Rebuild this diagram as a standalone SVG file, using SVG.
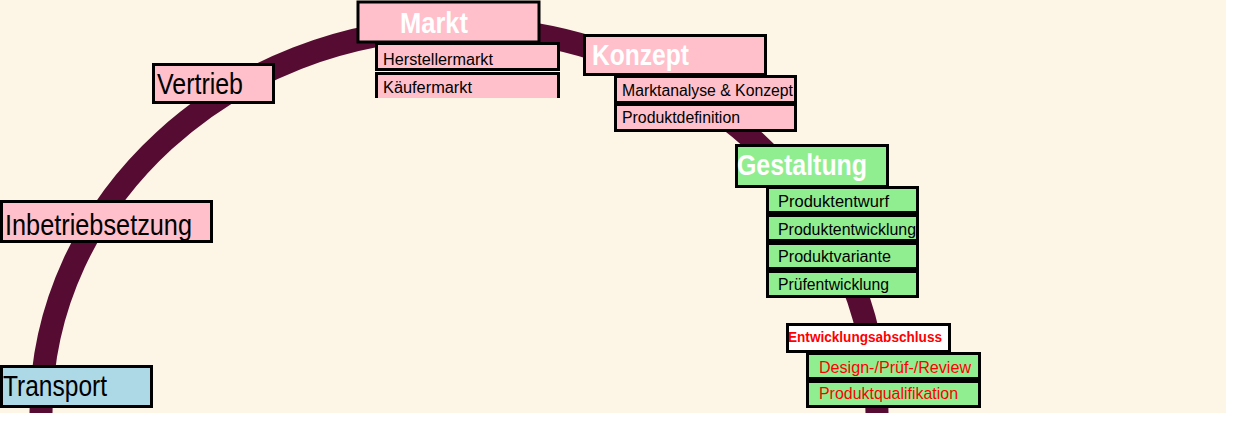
<svg xmlns="http://www.w3.org/2000/svg" width="1240" height="426" viewBox="0 0 1240 426">
<style>
.bx{stroke:#000;stroke-width:3}
.pk{fill:#FFC0CB}
.gr{fill:#90EE90}
.bl{fill:#ADD8E6}
.wh{fill:#FFFFFF}
text{font-family:"Liberation Sans",Arial,sans-serif}
.big{font-size:29px;fill:#000}
.head{font-size:29px;font-weight:bold;fill:#FFFFFF}
.sub{font-size:16px;fill:#000}
.red{font-size:16px;fill:#FF0000}
.redb{font-size:14px;font-weight:bold;fill:#FF0000}
</style>
<rect x="0" y="0" width="1240" height="426" fill="#FFFFFF"/>
<rect x="0" y="0" width="1226" height="413" fill="#FDF5E6"/>
<g id="connectors">
<path d="M41,413 C41,200 230,28 459,28 C688,28 877,200 877,413" fill="none" stroke="#560C32" stroke-width="23"/>
</g>
<g id="markt">
<rect class="bx pk" x="358" y="2" width="181" height="40" stroke-width="4"/>
<text class="head" x="400" y="33" textLength="68" lengthAdjust="spacingAndGlyphs">Markt</text>
</g>
<g id="herstellermarkt">
<rect class="bx pk" x="376.5" y="43.5" width="182" height="26"/>
<text class="sub" x="383" y="65" textLength="110" lengthAdjust="spacingAndGlyphs">Herstellermarkt</text>
</g>
<g id="kaeufermarkt">
<rect class="pk" x="375" y="72" width="185" height="26"/>
<path d="M376.5,98 V73.5 H558.5 V98" fill="none" stroke="#000" stroke-width="3"/>
<text class="sub" x="383" y="93" textLength="89" lengthAdjust="spacingAndGlyphs">Käufermarkt</text>
</g>
<g id="konzept">
<rect class="bx pk" x="584.5" y="35.5" width="181" height="39"/>
<text class="head" x="592" y="65" textLength="97" lengthAdjust="spacingAndGlyphs">Konzept</text>
</g>
<g id="marktanalyse">
<rect class="bx pk" x="615.5" y="76.5" width="180" height="26"/>
<text class="sub" x="622" y="96" textLength="171" lengthAdjust="spacingAndGlyphs">Marktanalyse &amp; Konzept</text>
</g>
<g id="produktdefinition">
<rect class="bx pk" x="615.5" y="104.5" width="180" height="26"/>
<text class="sub" x="622" y="123" textLength="118" lengthAdjust="spacingAndGlyphs">Produktdefinition</text>
</g>
<g id="gestaltung">
<rect class="bx gr" x="736.5" y="145.5" width="151" height="41"/>
<text class="head" x="737" y="175" textLength="130" lengthAdjust="spacingAndGlyphs">Gestaltung</text>
</g>
<g id="produktentwurf">
<rect class="bx gr" x="767.5" y="187.5" width="150" height="25"/>
<text class="sub" x="778" y="207" textLength="111" lengthAdjust="spacingAndGlyphs">Produktentwurf</text>
</g>
<g id="produktentwicklung">
<rect class="bx gr" x="767.5" y="215.5" width="150" height="25"/>
<text class="sub" x="778" y="235" textLength="138" lengthAdjust="spacingAndGlyphs">Produktentwicklung</text>
</g>
<g id="produktvariante">
<rect class="bx gr" x="767.5" y="243.5" width="150" height="25"/>
<text class="sub" x="778" y="262" textLength="113" lengthAdjust="spacingAndGlyphs">Produktvariante</text>
</g>
<g id="pruefentwicklung">
<rect class="bx gr" x="767.5" y="271.5" width="150" height="25"/>
<text class="sub" x="778" y="290" textLength="111" lengthAdjust="spacingAndGlyphs">Prüfentwicklung</text>
</g>
<g id="entwicklungsabschluss">
<rect class="bx wh" x="787.5" y="324.5" width="162" height="27"/>
<text class="redb" x="788" y="342" textLength="154" lengthAdjust="spacingAndGlyphs">Entwicklungsabschluss</text>
</g>
<g id="review">
<rect class="bx gr" x="807.5" y="353.5" width="172" height="25"/>
<text class="red" x="819" y="373" textLength="152" lengthAdjust="spacingAndGlyphs">Design-/Prüf-/Review</text>
</g>
<g id="produktqualifikation">
<rect class="bx gr" x="807.5" y="381.5" width="172" height="25"/>
<text class="red" x="819" y="399" textLength="139" lengthAdjust="spacingAndGlyphs">Produktqualifikation</text>
</g>
<g id="vertrieb">
<rect class="bx pk" x="153.5" y="64.5" width="120" height="38"/>
<text class="big" x="157" y="94" textLength="86" lengthAdjust="spacingAndGlyphs">Vertrieb</text>
</g>
<g id="inbetriebsetzung">
<rect class="bx pk" x="1.5" y="201.5" width="210" height="40"/>
<text class="big" x="5" y="235" textLength="187" lengthAdjust="spacingAndGlyphs">Inbetriebsetzung</text>
</g>
<g id="transport">
<rect class="bx bl" x="1.5" y="366.5" width="150" height="40"/>
<text class="big" x="3" y="396" textLength="104" lengthAdjust="spacingAndGlyphs">Transport</text>
</g>
</svg>
